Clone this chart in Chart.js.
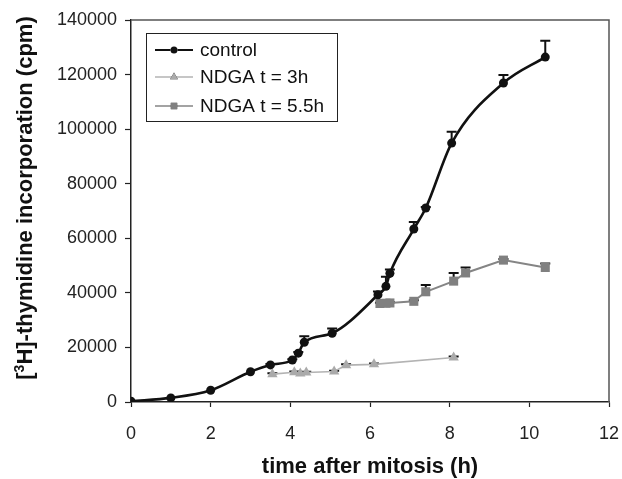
<!DOCTYPE html>
<html>
<head>
<meta charset="utf-8">
<script src="https://cdn.jsdelivr.net/npm/chart.js@4"></script>
<style>
  html, body { margin: 0; padding: 0; background: #fff; }
  #wrap { width: 622px; height: 479px; }
</style>
</head>
<body>
<div id="wrap"><canvas id="c" width="622" height="479"></canvas></div>
<script>
// ---- data ----
const controlX   = [0, 1, 2, 3, 3.5, 4.05, 4.2, 4.35, 5.05, 6.2, 6.4, 6.5, 7.1, 7.4, 8.05, 9.35, 10.4];
const controlY   = [300, 1500, 4300, 11100, 13600, 15400, 17900, 21900, 25200, 39300, 42400, 47200, 63400, 71100, 94900, 116900, 126400];
const controlErr = [0, 0, 0, 0, 300, 300, 400, 2200, 1700, 1200, 3500, 1400, 2600, 400, 4100, 2900, 6000];

const ndga3X   = [3.55, 4.1, 4.25, 4.4, 5.1, 5.4, 6.1, 8.1];
const ndga3Y   = [10200, 10900, 10400, 10800, 11150, 13500, 13800, 16300];
const ndga3Err = [300, 300, 300, 300, 300, 300, 300, 400];

const ndga55X   = [6.25, 6.4, 6.5, 7.1, 7.4, 8.1, 8.4, 9.35, 10.4];
const ndga55Y   = [36100, 36200, 36300, 36900, 40400, 44300, 47300, 52000, 49300];
const ndga55Err = [300, 300, 300, 400, 2500, 3000, 2000, 400, 1500];

const seriesLabels = ['control', 'NDGA t = 3h', 'NDGA t = 5.5h'];
const xTicks = [0, 2, 4, 6, 8, 10, 12];
const yTicks = [0, 20000, 40000, 60000, 80000, 100000, 120000, 140000];
const xTitle = 'time after mitosis (h)';
const yTitleParts = ['[', '3', 'H]-thymidine incorporation (cpm)'];

// ---- helpers ----
const toPts = (xs, ys) => xs.map((x, i) => ({ x: x, y: ys[i] }));
const FONT = '"Liberation Sans", Arial, sans-serif';

const errorBars = {
  id: 'errorBars',
  beforeDatasetsDraw(chart) {
    const ctx = chart.ctx;
    const yScale = chart.scales.y;
    chart.data.datasets.forEach((ds, di) => {
      if (!ds.errors) return;
      const meta = chart.getDatasetMeta(di);
      ctx.save();
      ctx.strokeStyle = '#111';
      ctx.lineWidth = 2;
      meta.data.forEach((pt, i) => {
        const e = ds.errors[i];
        if (!e) return;
        const top = yScale.getPixelForValue(ds.data[i].y + e);
        ctx.beginPath();
        ctx.moveTo(pt.x, pt.y);
        ctx.lineTo(pt.x, top);
        ctx.moveTo(pt.x - 5, top);
        ctx.lineTo(pt.x + 5, top);
        ctx.stroke();
      });
      ctx.restore();
    });
  }
};

const decorations = {
  id: 'decorations',
  afterDraw(chart) {
    const ctx = chart.ctx;
    const a = chart.chartArea;
    ctx.save();
    // top and right frame
    ctx.strokeStyle = '#555';
    ctx.lineWidth = 1.5;
    ctx.beginPath();
    ctx.moveTo(a.left, a.top);
    ctx.lineTo(a.right, a.top);
    ctx.lineTo(a.right, a.bottom);
    ctx.stroke();

    // x title
    ctx.fillStyle = '#111';
    ctx.font = 'bold 22px ' + FONT;
    ctx.textAlign = 'center';
    ctx.textBaseline = 'middle';
    ctx.fillText(xTitle, (a.left + a.right) / 2, 467);

    // y title with superscript
    ctx.save();
    ctx.translate(24, 198);
    ctx.rotate(-Math.PI / 2);
    const big = 'bold 22px ' + FONT, small = 'bold 14px ' + FONT;
    ctx.font = big; const w0 = ctx.measureText(yTitleParts[0]).width;
    ctx.font = small; const w1 = ctx.measureText(yTitleParts[1]).width;
    ctx.font = big; const w2 = ctx.measureText(yTitleParts[2]).width;
    let sx = -(w0 + w1 + w2) / 2;
    ctx.textAlign = 'left';
    ctx.textBaseline = 'alphabetic';
    ctx.font = big; ctx.fillText(yTitleParts[0], sx, 8); sx += w0;
    ctx.font = small; ctx.fillText(yTitleParts[1], sx, 0); sx += w1;
    ctx.font = big; ctx.fillText(yTitleParts[2], sx, 8);
    ctx.restore();

    // legend box
    const bx = 146, by = 33, bw = 191, bh = 88;
    ctx.fillStyle = '#fff';
    ctx.fillRect(bx, by, bw, bh);
    ctx.strokeStyle = '#222';
    ctx.lineWidth = 1;
    ctx.strokeRect(bx + 0.5, by + 0.5, bw, bh);
    const rowsY = [50, 77, 106];
    chart.data.datasets.forEach((ds, i) => {
      const y = rowsY[i];
      ctx.strokeStyle = ds.borderColor;
      ctx.lineWidth = i === 0 ? 1.8 : 1.6;
      ctx.beginPath();
      ctx.moveTo(155, y);
      ctx.lineTo(193, y);
      ctx.stroke();
      Chart.helpers.drawPoint(ctx, {
        pointStyle: ds.pointStyle,
        radius: i === 0 ? 3.5 : 4.5,
        borderWidth: 0
      }, 174, y);
      ctx.fillStyle = ds.pointBackgroundColor;
      ctx.fill();
      ctx.fillStyle = '#111';
      ctx.font = '19px ' + FONT;
      ctx.textAlign = 'left';
      ctx.textBaseline = 'middle';
      ctx.fillText(ds.label, 200, y + 1);
    });
    ctx.restore();
  }
};

new Chart(document.getElementById('c'), {
  type: 'line',
  data: {
    datasets: [
      {
        label: seriesLabels[0],
        data: toPts(controlX, controlY),
        errors: controlErr,
        borderColor: '#111',
        backgroundColor: '#111',
        pointBackgroundColor: '#111',
        pointBorderColor: '#111',
        borderWidth: 2.6,
        pointStyle: 'circle',
        pointRadius: 4.5,
        pointBorderWidth: 0,
        cubicInterpolationMode: 'monotone',
        fill: false
      },
      {
        label: seriesLabels[1],
        data: toPts(ndga3X, ndga3Y),
        errors: ndga3Err,
        borderColor: '#b3b3b3',
        backgroundColor: '#aaaaaa',
        pointBackgroundColor: '#aaaaaa',
        pointBorderColor: '#aaaaaa',
        borderWidth: 1.6,
        pointStyle: 'triangle',
        pointRadius: 6,
        pointBorderWidth: 0,
        tension: 0,
        fill: false
      },
      {
        label: seriesLabels[2],
        data: toPts(ndga55X, ndga55Y),
        errors: ndga55Err,
        borderColor: '#858585',
        backgroundColor: '#808080',
        pointBackgroundColor: '#808080',
        pointBorderColor: '#808080',
        borderWidth: 2,
        pointStyle: 'rect',
        pointRadius: 6.4,
        pointBorderWidth: 0,
        tension: 0,
        fill: false
      }
    ]
  },
  options: {
    responsive: false,
    animation: false,
    devicePixelRatio: 1,
    layout: { padding: { top: 20, right: 13, left: 0, bottom: 0 } },
    plugins: { legend: { display: false }, tooltip: { enabled: false } },
    scales: {
      x: {
        type: 'linear',
        min: 0, max: 12,
        afterBuildTicks(s) { s.ticks = xTicks.map(v => ({ value: v })); },
        afterFit(s) { s.height = 77; s.paddingRight = 0; s.paddingLeft = 0; },
        grid: { drawOnChartArea: false, color: '#222', tickLength: 5, tickWidth: 1.2 },
        border: { color: '#222', width: 1.5 },
        ticks: { color: '#222', font: { family: FONT, size: 18 }, padding: 16, maxRotation: 0,
                 callback: v => String(v) }
      },
      y: {
        type: 'linear',
        min: 0, max: 140000,
        afterBuildTicks(s) { s.ticks = yTicks.map(v => ({ value: v })); },
        afterFit(s) { s.width = 131; s.paddingTop = 0; s.paddingBottom = 0; },
        grid: { drawOnChartArea: false, color: '#222', tickLength: 6, tickWidth: 1.2 },
        border: { color: '#222', width: 1.5 },
        ticks: { color: '#222', font: { family: FONT, size: 18 }, padding: 8,
                 callback: v => String(v) }
      }
    }
  },
  plugins: [errorBars, decorations]
});
</script>
</body>
</html>
